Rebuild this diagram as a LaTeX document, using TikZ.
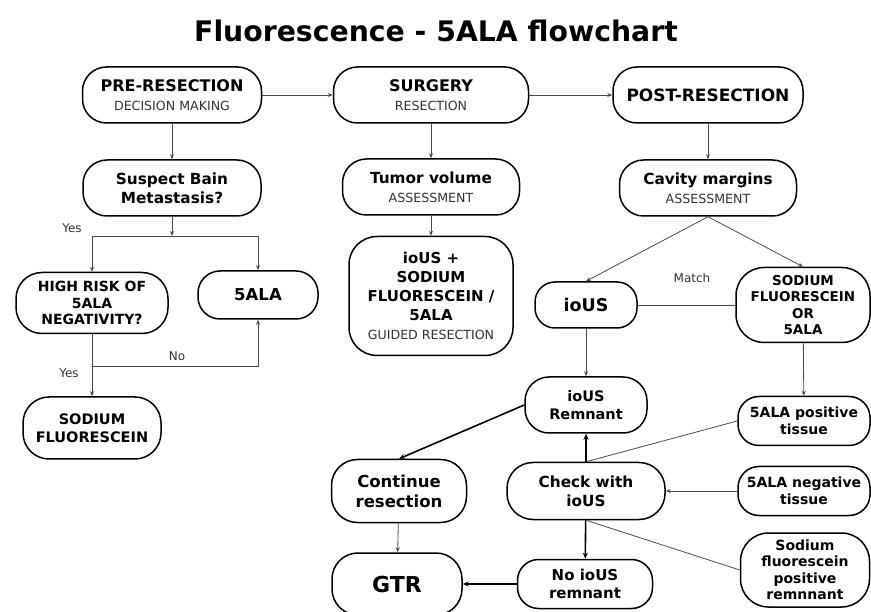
\documentclass[tikz,border=0pt]{standalone}
\usepackage{fontspec}
\setmainfont{DejaVu Sans}
\usetikzlibrary{arrows.meta}
\definecolor{linegray}{HTML}{4A4A4A}
\definecolor{subgray}{HTML}{333333}
\newcommand{\subtxt}[1]{{\normalfont\fontsize{12.6}{15}\selectfont\color{subgray}#1}}
\tikzset{
  box/.style={draw, line width=1.5pt, rounded corners=#1, align=center, inner sep=1pt,
    font=\bfseries\fontsize{16}{19}\selectfont},
  box/.default=24pt,
  mixed/.style={font=\bfseries\fontsize{15.3}{19}\selectfont},
  thin/.style={draw=linegray, line width=0.8pt},
  tip/.style={thin, -{Stealth[length=5pt,width=4pt]}},
  thick/.style={draw=black, line width=1.6pt, -{Stealth[length=6pt,width=5pt]}},
  lbl/.style={font=\fontsize{12}{15}\selectfont, text=subgray}
}
\begin{document}
\begin{tikzpicture}[x=1pt,y=-1pt]
  \useasboundingbox (0,0) rectangle (871,612);
  \node (title) at (436,31) {\bfseries\fontsize{28.3}{32}\selectfont Fluorescence - 5ALA flowchart};

  % top row
  \node[box, minimum width=179pt, minimum height=56pt] (pre) at (172,95)
    {PRE-RESECTION\\\subtxt{DECISION MAKING}};
  \node[box, minimum width=195pt, minimum height=56pt] (surg) at (431,95)
    {SURGERY\\\subtxt{RESECTION}};
  \node[box, minimum width=190pt, minimum height=56pt,
        font=\bfseries\fontsize{17}{20}\selectfont] (post) at (708,95)
    {POST-RESECTION};

  % left column
  \node[box, mixed, minimum width=178pt, minimum height=56pt] (susp) at (172,188)
    {Suspect Bain\\Metastasis?};
  \node[box=26pt, minimum width=152pt, minimum height=61pt,
        font=\bfseries\fontsize{14}{16.5}\selectfont] (high) at (92,303)
    {HIGH RISK OF\\5ALA\\NEGATIVITY?};
  \node[box=22pt, minimum width=120pt, minimum height=48pt,
        font=\bfseries\fontsize{16.5}{20}\selectfont] (ala) at (258,295) {5ALA};
  \node[box=26pt, minimum width=138pt, minimum height=62pt,
        font=\bfseries\fontsize{14.5}{18}\selectfont] (sod) at (92,428)
    {SODIUM\\FLUORESCEIN};

  % middle column
  \node[box, mixed, minimum width=177pt, minimum height=56pt] (tum) at (431,187)
    {Tumor volume\\\subtxt{ASSESSMENT}};
  \node[box=28pt, minimum width=164pt, minimum height=119pt,
        font=\bfseries\fontsize{15}{19}\selectfont] (guided) at (431,296)
    {ioUS +\\SODIUM\\FLUORESCEIN /\\5ALA\\\subtxt{GUIDED RESECTION}};

  % right column
  \node[box, mixed, minimum width=177pt, minimum height=56pt] (cav) at (708,188)
    {Cavity margins\\\subtxt{ASSESSMENT}};
  \node[box=20pt, minimum width=102pt, minimum height=46pt,
        font=\bfseries\fontsize{17.5}{20}\selectfont] (ious) at (586,305) {ioUS};
  \node[box=28pt, minimum width=134pt, minimum height=75pt,
        font=\bfseries\fontsize{13.5}{16.5}\selectfont] (sfor) at (803,305)
    {SODIUM\\FLUORESCEIN\\OR\\5ALA};
  \node[box, minimum width=122pt, minimum height=56pt,
        font=\bfseries\fontsize{14.5}{18}\selectfont] (rem) at (586,405)
    {ioUS\\Remnant};
  \node[box=21pt, minimum width=132pt, minimum height=49pt,
        font=\bfseries\fontsize{14}{17}\selectfont] (pos) at (804,421)
    {5ALA positive\\tissue};
  \node[box=26pt, mixed, minimum width=158pt, minimum height=57pt] (check) at (586,491)
    {Check with\\ioUS};
  \node[box=21pt, minimum width=132pt, minimum height=49pt,
        font=\bfseries\fontsize{14}{17}\selectfont] (neg) at (804,491)
    {5ALA negative\\tissue};
  \node[box=28pt, minimum width=129pt, minimum height=74pt,
        font=\bfseries\fontsize{14}{16.5}\selectfont] (sfr) at (805,570)
    {Sodium\\fluorescein\\positive\\remnnant};
  \node[box=21pt, minimum width=135pt, minimum height=49pt,
        font=\bfseries\fontsize{15}{18}\selectfont] (noi) at (585,584)
    {No ioUS\\remnant};

  % bottom left
  \node[box=26pt, minimum width=135pt, minimum height=63pt,
        font=\bfseries\fontsize{16.5}{20}\selectfont] (cont) at (399,491)
    {Continue\\resection};
  \node[box=26pt, minimum width=130pt, minimum height=62pt,
        font=\bfseries\fontsize{22}{26}\selectfont] (gtr) at (397,584) {GTR};

  \coordinate (split) at (172,236);
  \coordinate (nob) at (92,366);

  % connectors
  \draw[tip] (pre) -- (surg);
  \draw[tip] (surg) -- (post);
  \draw[tip] (pre) -- (susp);
  \draw[tip] (susp) -- (split);
  \draw[tip] (split) -| (high.north);
  \draw[tip] (split) -| (ala.north);
  \draw[tip] (high) -- (sod);
  \draw[tip] (nob) -| (ala.south);
  \draw[tip] (surg) -- (tum);
  \draw[tip] (tum) -- (guided);
  \draw[tip] (post) -- (cav);
  \draw[tip] (cav.south) -- (ious.north);
  \draw[tip] (cav.south) -- (sfor.north);
  \draw[thin] (ious) -- (sfor);
  \draw[tip] (ious) -- (rem);
  \draw[tip] (sfor) -- (pos);
  \draw[thin] (pos.west) -- (check.north);
  \draw[tip] (neg) -- (check);
  \draw[thin] (sfr.west) -- (check.south);
  \draw[thick] (check) -- (rem);
  \draw[thick] (check) -- (noi);
  \draw[thick] (noi) -- (gtr);
  \draw[thick] (rem.west) -- (cont.north);
  \draw[tip] (cont) -- (gtr);

  \node[lbl] (yes1) at (72,228) {Yes};
  \node[lbl] (no1) at (177,356) {No};
  \node[lbl] (yes2) at (69,373) {Yes};
  \node[lbl] (match) at (692,278) {Match};
\end{tikzpicture}
\end{document}
